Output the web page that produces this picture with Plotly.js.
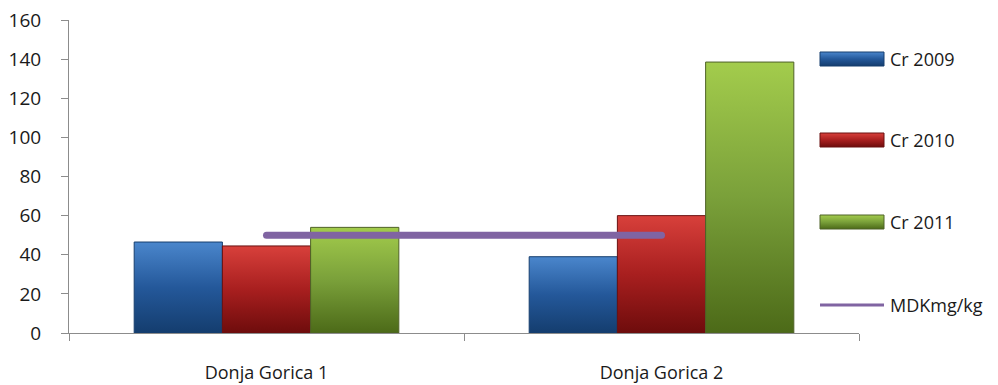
<!DOCTYPE html>
<html>
<head>
<meta charset="utf-8">
<script src="https://cdn.plot.ly/plotly-3.0.1.min.js"></script>
<style>
  html, body { margin: 0; padding: 0; background: #fff; }
  #chart { width: 998px; height: 385px; }
</style>
</head>
<body>
<div id="chart"></div>
<script>
// Chromium content per site and year (mg/kg) with the MDK limit
const sites = ['Donja Gorica 1', 'Donja Gorica 2'];
const cr2009 = [46.5, 39];
const cr2010 = [44.5, 60];
const cr2011 = [54, 138.5];
const mdk = [50, 50];
const seriesNames = ['Cr 2009', 'Cr 2010', 'Cr 2011', 'MDKmg/kg'];

const FONT = '"Open Sans", "Liberation Sans", sans-serif';
const TEXT = '#1a1a1a';

// Bar shading: top, middle, bottom and outline colours for each year
const shades = [
  { id: 'gBlue',  top: '#4a86cc', mid: '#24589a', bottom: '#143d6e', line: '#173f6e' },
  { id: 'gRed',   top: '#d8403b', mid: '#a81f1f', bottom: '#6e0c0c', line: '#6a1010' },
  { id: 'gGreen', top: '#a3cc4c', mid: '#7aa03a', bottom: '#4c6a18', line: '#4f6228' }
];
const MDK_COLOR = '#8064a2';

function barTrace(name, values, shade) {
  return {
    type: 'bar', name: name, x: sites, y: values,
    marker: { color: shade.mid, line: { color: shade.line, width: 1 } },
    hoverinfo: 'skip'
  };
}

const traces = [
  barTrace(seriesNames[0], cr2009, shades[0]),
  barTrace(seriesNames[1], cr2010, shades[1]),
  barTrace(seriesNames[2], cr2011, shades[2]),
  {
    type: 'scatter', mode: 'lines', name: seriesNames[3], x: sites, y: mdk,
    line: { color: MDK_COLOR, width: 7 }, hoverinfo: 'skip'
  }
];

// Plot area in page pixels
const M = { l: 69, r: 139, t: 20, b: 52 };
const W = 998, H = 385;
const PW = W - M.l - M.r, PH = H - M.t - M.b;
const px = x => (x - M.l) / PW;          // page x -> paper x
const py = y => (H - M.b - y) / PH;      // page y -> paper y

// Legend column: swatch from 820 to 884, label from 889, one row per series
const legendRows = [59, 140, 222, 305];
const shapes = [], annotations = [];
seriesNames.forEach((name, i) => {
  const yc = legendRows[i];
  if (i < 3) {
    shapes.push({
      type: 'rect', xref: 'paper', yref: 'paper',
      x0: px(820), x1: px(884), y0: py(yc + 7), y1: py(yc - 7),
      fillcolor: shades[i].mid, line: { color: shades[i].line, width: 1 }
    });
  } else {
    shapes.push({
      type: 'line', xref: 'paper', yref: 'paper',
      x0: px(820), x1: px(884), y0: py(yc), y1: py(yc),
      line: { color: MDK_COLOR, width: 3 }
    });
  }
  annotations.push({
    xref: 'paper', yref: 'paper', x: px(888), y: py(yc),
    xanchor: 'left', yanchor: 'middle', showarrow: false,
    text: name, font: { family: FONT, size: 18, color: TEXT }
  });
});

const layout = {
  width: W, height: H,
  margin: { l: M.l, r: M.r, t: M.t, b: M.b, autoexpand: false },
  paper_bgcolor: '#ffffff', plot_bgcolor: '#ffffff',
  barmode: 'group', bargap: 0.33, bargroupgap: 0,
  font: { family: FONT, color: TEXT },
  showlegend: false,
  shapes: shapes, annotations: annotations,
  xaxis: {
    type: 'category', showgrid: false, zeroline: false,
    showline: true, linecolor: '#8c8c8c', linewidth: 1,
    ticks: 'outside', tickson: 'boundaries', ticklen: 7, tickcolor: '#8c8c8c',
    tickfont: { family: FONT, size: 18, color: TEXT },
    ticklabelstandoff: 23, fixedrange: true
  },
  yaxis: {
    range: [0, 160], dtick: 20, showgrid: false, zeroline: false,
    showline: true, linecolor: '#8c8c8c', linewidth: 1,
    ticks: 'outside', ticklen: 7, tickcolor: '#8c8c8c',
    tickfont: { family: FONT, size: 19, color: TEXT },
    ticklabelstandoff: 16, fixedrange: true
  }
};

// Vertical gradients on the bars and legend swatches, rounded ends on the limit line
function decorate(gd) {
  const svg = gd.querySelector('svg.main-svg');
  const NS = 'http://www.w3.org/2000/svg';
  let defs = svg.querySelector('defs');
  if (!defs) { defs = document.createElementNS(NS, 'defs'); svg.insertBefore(defs, svg.firstChild); }
  shades.forEach(s => {
    const g = document.createElementNS(NS, 'linearGradient');
    g.setAttribute('id', s.id);
    g.setAttribute('x1', '0'); g.setAttribute('y1', '0');
    g.setAttribute('x2', '0'); g.setAttribute('y2', '1');
    [[0, s.top], [0.5, s.mid], [1, s.bottom]].forEach(([o, c]) => {
      const st = document.createElementNS(NS, 'stop');
      st.setAttribute('offset', o); st.setAttribute('stop-color', c);
      g.appendChild(st);
    });
    defs.appendChild(g);
  });
  gd.querySelectorAll('.barlayer .trace').forEach((tr, i) => {
    tr.querySelectorAll('path').forEach(p => { p.style.fill = 'url(#' + shades[i].id + ')'; });
  });
  gd.querySelectorAll('.scatterlayer .js-line').forEach(p => {
    p.style.strokeLinecap = 'round';
  });
  const shapePaths = gd.querySelectorAll('.shapelayer path');
  shapePaths.forEach((p, i) => {
    if (i < 3) p.style.fill = 'url(#' + shades[i].id + ')';
  });
}

Plotly.newPlot('chart', traces, layout, { staticPlot: true, displayModeBar: false })
  .then(decorate);
</script>
</body>
</html>
